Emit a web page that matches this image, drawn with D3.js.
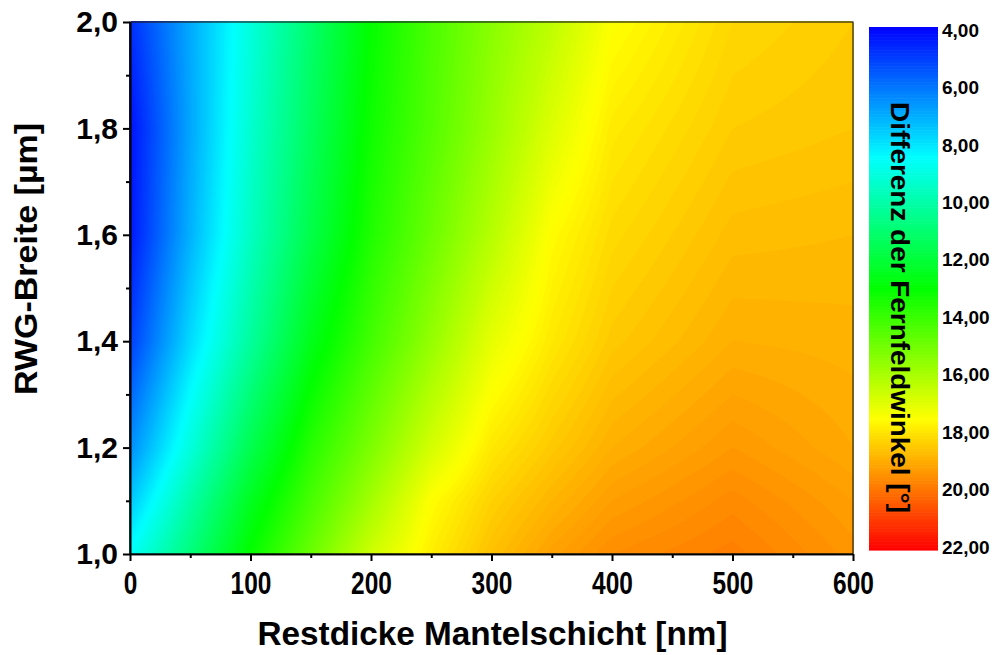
<!DOCTYPE html>
<html>
<head>
<meta charset="utf-8">
<script src="https://cdn.jsdelivr.net/npm/d3@7"></script>
<style>
  html, body { margin: 0; padding: 0; background: #fff; }
  svg { display: block; font-family: "Liberation Sans", Arial, sans-serif; font-weight: bold; }
</style>
</head>
<body>
<svg id="chart" width="996" height="655"></svg>
<script>
// Residual cladding thickness (nm): grid columns
const thicknessNm = [0, 50, 100, 150, 200, 250, 300, 350, 400, 500, 600];
// RWG width (µm): grid rows
const widthUm = [1.0, 1.1, 1.2, 1.4, 1.6, 1.8, 2.0];
// Far-field angle difference (°), one row per RWG width
const angleDiff = [
  [8.6, 10.85, 13.07, 14.86, 16.64, 17.80, 18.60, 19.15, 19.50, 19.75, 19.35], // 1.0 µm
  [7.5, 10.03, 12.43, 14.24, 15.87, 17.50, 18.30, 18.80, 19.20, 19.55, 19.20], // 1.1 µm
  [6.5,  9.10, 11.60, 13.67, 15.20, 16.73, 17.90, 18.45, 18.90, 19.30, 19.00], // 1.2 µm
  [5.1,  7.84, 10.24, 12.54, 14.16, 15.61, 17.06, 17.89, 18.45, 18.90, 18.85], // 1.4 µm
  [4.4,  7.13,  9.57, 11.71, 13.54, 14.88, 16.21, 17.53, 18.15, 18.65, 18.70], // 1.6 µm
  [4.3,  6.93,  9.32, 11.36, 13.24, 14.46, 15.68, 16.89, 17.85, 18.40, 18.50], // 1.8 µm
  [4.8,  7.00,  9.10, 11.10, 13.04, 14.30, 15.40, 16.35, 17.45, 18.20, 18.40]  // 2.0 µm
];

const xTicks = [0, 100, 200, 300, 400, 500, 600];
const xMinorTicks = [50, 150, 250, 350, 450, 550];
const yTicks = [1.0, 1.2, 1.4, 1.6, 1.8, 2.0];
const yMinorTicks = [1.1, 1.3, 1.5, 1.7, 1.9];
const colorTicks = [4, 6, 8, 10, 12, 14, 16, 18, 20, 22];
const paletteStops = [4, 8.5, 13, 17.5, 22];
const paletteColors = ["#0000ff", "#00ffff", "#00ff00", "#ffff00", "#ff0000"];

const xTitle = "Restdicke Mantelschicht [nm]";
const yTitle = "RWG-Breite [µm]";
const zTitle = "Differenz der Fernfeldwinkel [°]";

const svg = d3.select("#chart");
const plot = { left: 130, right: 853, top: 22, bottom: 554 };

const x = d3.scaleLinear().domain([0, 600]).range([plot.left, plot.right]);
const y = d3.scaleLinear().domain([1.0, 2.0]).range([plot.bottom, plot.top]);
const color = d3.scaleLinear().domain(paletteStops).range(paletteColors).clamp(true);
const comma = (v, n) => v.toFixed(n).replace(".", ",");

// Bilinear interpolation on the measured grid
function cellIndex(arr, v) {
  const i = d3.bisectRight(arr, v) - 1;
  return Math.max(0, Math.min(arr.length - 2, i));
}
function valueAt(t, w) {
  const i = cellIndex(thicknessNm, t), j = cellIndex(widthUm, w);
  const tx = (t - thicknessNm[i]) / (thicknessNm[i + 1] - thicknessNm[i]);
  const ty = (w - widthUm[j]) / (widthUm[j + 1] - widthUm[j]);
  const v00 = angleDiff[j][i], v10 = angleDiff[j][i + 1];
  const v01 = angleDiff[j + 1][i], v11 = angleDiff[j + 1][i + 1];
  return (v00 * (1 - tx) + v10 * tx) * (1 - ty) + (v01 * (1 - tx) + v11 * tx) * ty;
}

// Fine sampling grid for the filled contour levels (row 0 = top)
const nx = 240, ny = 200;
const field = new Array(nx * ny);
for (let j = 0; j < ny; j++) {
  const w = 2.0 - (j + 0.5) / ny * 1.0;
  for (let i = 0; i < nx; i++) {
    const t = (i + 0.5) / nx * 600;
    field[j * nx + i] = valueAt(t, w);
  }
}
const levels = d3.range(30, 221).map(d => d / 10);
const step = 0.1;
const bands = d3.contours().size([nx, ny]).thresholds(levels)(field);

const gridPath = d3.geoPath(d3.geoTransform({
  point: function (gx, gy) {
    this.stream.point(x(gx / nx * 600), y(2.0 - gy / ny * 1.0));
  }
}));

svg.append("g")
  .selectAll("path")
  .data(bands)
  .join("path")
  .attr("d", gridPath)
  .attr("fill", d => color(d.value + step / 2))
  .attr("stroke", d => color(d.value + step / 2))
  .attr("stroke-width", 0.3);

// Frame around the plot
svg.append("rect")
  .attr("x", plot.left).attr("y", plot.top)
  .attr("width", plot.right - plot.left).attr("height", plot.bottom - plot.top)
  .attr("fill", "none").attr("stroke", "#222").attr("stroke-width", 1.2);

// Axes
const xAxis = svg.append("g")
  .attr("transform", `translate(0,${plot.bottom})`)
  .call(d3.axisBottom(x).tickValues(xTicks).tickFormat(d => String(d))
    .tickSize(7).tickSizeOuter(0).tickPadding(11));
xAxis.selectAll("text")
  .attr("font-size", 31)
  .attr("fill", "#000")
  .attr("textLength", d => String(d).length * 13.6)
  .attr("lengthAdjust", "spacingAndGlyphs");

svg.append("g")
  .attr("transform", `translate(0,${plot.bottom})`)
  .call(d3.axisBottom(x).tickValues(xMinorTicks).tickFormat("").tickSize(4).tickSizeOuter(0));

svg.append("g")
  .attr("transform", `translate(${plot.left},0)`)
  .call(d3.axisLeft(y).tickValues(yTicks).tickFormat(d => comma(d, 1))
    .tickSize(7).tickSizeOuter(0).tickPadding(5))
  .selectAll("text")
  .attr("font-size", 30)
  .attr("fill", "#000");

svg.append("g")
  .attr("transform", `translate(${plot.left},0)`)
  .call(d3.axisLeft(y).tickValues(yMinorTicks).tickFormat("").tickSize(4).tickSizeOuter(0));

svg.selectAll(".domain").attr("stroke", "#000").attr("stroke-width", 1.6);
svg.selectAll(".tick line").attr("stroke", "#000").attr("stroke-width", 2);

// Axis titles
svg.append("text")
  .attr("x", (plot.left + plot.right) / 2 + 1)
  .attr("y", 645)
  .attr("text-anchor", "middle")
  .attr("font-size", 34)
  .attr("textLength", 470)
  .attr("lengthAdjust", "spacingAndGlyphs")
  .text(xTitle);

svg.append("text")
  .attr("transform", "translate(37,259) rotate(-90)")
  .attr("text-anchor", "middle")
  .attr("font-size", 32)
  .attr("textLength", 272)
  .attr("lengthAdjust", "spacingAndGlyphs")
  .text(yTitle);

// Colour scale bar
const cb = { left: 869, width: 69, top: 27, bottom: 550 };
const cbScale = d3.scaleLinear().domain([4, 22]).range([cb.top, cb.bottom]);
const cbLabelScale = d3.scaleLinear().domain([4, 22]).range([30, 547]);
const cbStep = 0.05;
svg.append("g")
  .selectAll("rect")
  .data(d3.range(400, 2200, 5).map(d => d / 100))
  .join("rect")
  .attr("x", cb.left)
  .attr("width", cb.width)
  .attr("y", d => cbScale(d))
  .attr("height", d => cbScale(d + cbStep) - cbScale(d) + 0.6)
  .attr("fill", d => color(d + cbStep / 2));

svg.append("g")
  .selectAll("text")
  .data(colorTicks)
  .join("text")
  .attr("x", 942)
  .attr("y", d => cbLabelScale(d))
  .attr("dy", "0.35em")
  .attr("font-size", 19)
  .text(d => comma(d, 2));

svg.append("text")
  .attr("transform", `translate(891,${(102 + 513) / 2}) rotate(90)`)
  .attr("text-anchor", "middle")
  .attr("font-size", 26)
  .attr("textLength", 411)
  .attr("lengthAdjust", "spacingAndGlyphs")
  .text(zTitle);
</script>
</body>
</html>
